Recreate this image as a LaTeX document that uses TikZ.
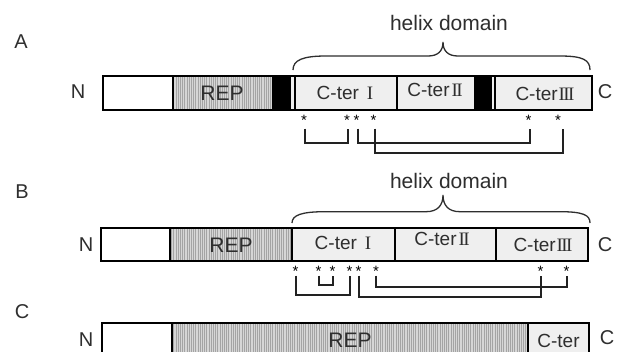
\documentclass[tikz,border=0pt]{standalone}
\usepackage{fontspec}
\setmainfont{Liberation Sans}
\newfontfamily\numfont{Liberation Serif}
\usetikzlibrary{patterns.meta}
\definecolor{txt}{HTML}{2E2E2E}
\definecolor{cterfill}{HTML}{EFEFEF}
\definecolor{repbase}{HTML}{D6D6D6}
\definecolor{repline}{HTML}{A4A4A4}
\definecolor{linec}{HTML}{222222}
\newcommand\rnOne{{\numfont I}}
\newcommand\rnTwo{{\numfont I\kern-1.6pt I}}
\newcommand\rnThree{{\numfont I\kern-1.6pt I\kern-1.6pt I}}
\begin{document}
\begin{tikzpicture}[x=1pt,y=-1pt,
  outline/.style={line width=2.2pt,draw=black},
  divider/.style={line width=1.8pt,draw=black},
  repfill/.style={fill=repbase,postaction={pattern={Lines[angle=90,distance=2.2pt,line width=0.8pt]},pattern color=repline}},
  lbl/.style={font=\fontsize{21}{21}\selectfont,text=txt,inner sep=0pt},
  clbl/.style={font=\fontsize{19}{19}\selectfont,text=txt,inner sep=0pt},
  endlbl/.style={font=\fontsize{20}{20}\selectfont,text=txt,inner sep=0pt},
  star/.style={font=\fontsize{15}{15}\selectfont,text=black,inner sep=0pt,anchor=base},
  bracket/.style={line width=2pt,draw=linec},
  bracecurve/.style={line width=1.3pt,draw=txt}]
\useasboundingbox (0,0) rectangle (618,351);
\fill[white] (0,0) rectangle (618,351);

% ---------------- Row A ----------------
\node[endlbl] (labA) at (21,42) {A};
\fill[white] (102.7,76) rectangle (172.7,110);
\path[repfill] (172.7,76) rectangle (272.7,110);
\fill[black] (272.7,76) rectangle (291,110);
\fill[cterfill] (291,76) rectangle (592,110);
\fill[black] (475,76) rectangle (491.5,110);
\draw[outline] (102.7,76) rectangle (592,110);
\foreach \x in {172.7,272.7,295,397,475,495.2}
  \draw[divider] (\x,76) -- (\x,110);
\node[endlbl] (nA) at (78,92) {N};
\node[endlbl] (cA) at (605,92) {C};
\node[lbl] (repA) at (222,93) {REP};
\node[clbl] (c1A) at (345,93) {C-ter\hspace{8pt}\rnOne};
\node[clbl] (c2A) at (435,90) {C-ter\hspace{2pt}\rnTwo};
\node[clbl] (c3A) at (545,94) {C-ter\hspace{1pt}\rnThree};
\node[lbl,anchor=base] (hA) at (449,30) {helix domain};
\draw[bracecurve] (293,70) .. controls (293,60) and (303,56) .. (326,56) -- (428,56)
  .. controls (438,56) and (443,51) .. (443,42)
  .. controls (443,51) and (448,56) .. (458,56) -- (560,56)
  .. controls (583,56) and (590,60) .. (590,70);
% stars A
\foreach \n/\x in {1/304,2/347,3/356.5,4/373.5,5/528.5,6/558}
  \node[star] (sA\n) at (\x,125) {*};
\coordinate (tA) at (0,128.5);
\coordinate (bA1) at (0,143);
\coordinate (bA3) at (0,153);
\draw[bracket] ([xshift=1pt]sA1 |- tA) -- ([xshift=1pt]sA1 |- bA1) -- ([xshift=1pt]sA2 |- bA1) -- ([xshift=1pt]sA2 |- tA);
\draw[bracket] ([xshift=1pt]sA3 |- tA) -- ([xshift=1pt]sA3 |- bA1) -- ([xshift=1pt]sA5 |- bA1) -- ([xshift=1pt]sA5 |- tA);
\draw[bracket] ([xshift=1pt]sA4 |- tA) -- ([xshift=1pt]sA4 |- bA3) -- ([xshift=5pt]sA6 |- bA3) -- ([xshift=5pt]sA6 |- tA);

% ---------------- Row B ----------------
\node[endlbl] (labB) at (22,192) {B};
\fill[white] (100.7,228.3) rectangle (170,261);
\path[repfill] (170,228.3) rectangle (292.3,261);
\fill[cterfill] (292.3,228.3) rectangle (588.3,261);
\draw[outline] (100.7,228.3) rectangle (588.3,261);
\foreach \x in {170,292.3,395,496}
  \draw[divider] (\x,228.3) -- (\x,261);
\node[endlbl] (nB) at (86,245) {N};
\node[endlbl] (cB) at (605,245) {C};
\node[lbl] (repB) at (231,245) {REP};
\node[clbl] (c1B) at (343,243) {C-ter\hspace{8pt}\rnOne};
\node[clbl] (c2B) at (442,239) {C-ter\hspace{2pt}\rnTwo};
\node[clbl] (c3B) at (543,245) {C-ter\hspace{1pt}\rnThree};
\node[lbl,anchor=base] (hB) at (449,188) {helix domain};
\draw[bracecurve] (292,223) .. controls (292,215) and (302,211.7) .. (325,211.7) -- (426,211.7)
  .. controls (438,211.7) and (443,205) .. (443,195)
  .. controls (443,205) and (448,211.7) .. (460,211.7) -- (560,211.7)
  .. controls (583,211.7) and (590,215) .. (590,223);
% stars B
\foreach \n/\x in {1/295.5,2/318.5,3/332.5,4/349.5,5/358.5,6/376,7/540.5,8/566.5}
  \node[star] (sB\n) at (\x,276) {*};
\coordinate (tB) at (0,275.5);
\coordinate (bB1) at (0,295);
\coordinate (bB2) at (0,285);
\coordinate (bB3) at (0,296.5);
\coordinate (bB4) at (0,287.3);
\draw[bracket] (sB1 |- tB) -- (sB1 |- bB1) -- (sB4 |- bB1) -- (sB4 |- tB);
\draw[bracket] (sB2 |- tB) -- (sB2 |- bB2) -- (sB3 |- bB2) -- (sB3 |- tB);
\draw[bracket] (sB5 |- tB) -- (sB5 |- bB3) -- (sB7 |- bB3) -- (sB7 |- tB);
\draw[bracket] (sB6 |- tB) -- (sB6 |- bB4) -- (sB8 |- bB4) -- (sB8 |- tB);

% ---------------- Row C ----------------
\node[endlbl] (labC) at (22,312) {C};
\fill[white] (101.7,322.7) rectangle (171.7,356);
\path[repfill] (171.7,322.7) rectangle (527.7,356);
\fill[cterfill] (527.7,322.7) rectangle (589.3,356);
\draw[outline] (101.7,322.7) rectangle (589.3,356);
\foreach \x in {171.7,527.7}
  \draw[divider] (\x,322.7) -- (\x,356);
\node[endlbl] (nC) at (86,340) {N};
\node[endlbl] (cC) at (607,338) {C};
\node[lbl] (repC) at (350,340) {REP};
\node[clbl] (c0C) at (558.5,341) {C-ter};
\end{tikzpicture}
\end{document}
